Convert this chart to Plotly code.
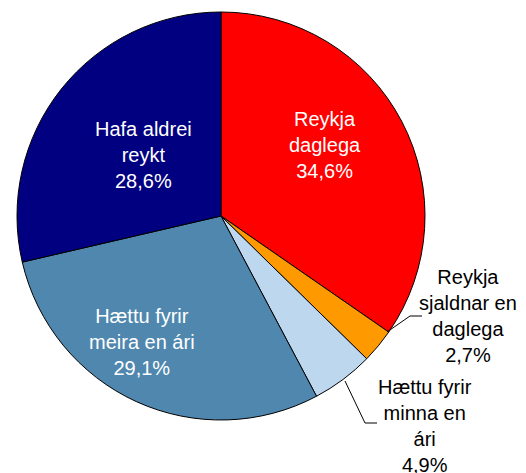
import plotly.graph_objects as go

# Share of respondents by smoking status (%)
categories = ["Reykja daglega", "Reykja sjaldnar en daglega", "Hættu fyrir minna en ári",
              "Hættu fyrir meira en ári", "Hafa aldrei reykt"]
label_lines = ["Reykja<br>daglega", "Reykja<br>sjaldnar en<br>daglega", "Hættu fyrir<br>minna en<br>ári",
               "Hættu fyrir<br>meira en ári", "Hafa aldrei<br>reykt"]
values = [34.6, 2.7, 4.9, 29.1, 28.6]
colors = ["#FF0000", "#FF9900", "#BDD7EE", "#4F87AE", "#000080"]

W, H = 526, 473
FONT = "Liberation Sans Narrow, Arial Narrow, Liberation Sans, Arial, sans-serif"


def px(x, y):
    return x / W, 1 - y / H


fig = go.Figure(go.Pie(
    labels=categories, values=values, sort=False, direction="clockwise", rotation=0,
    marker=dict(colors=colors, line=dict(color="black", width=1)),
    textinfo="none", hoverinfo="label+percent", showlegend=False,
    domain=dict(x=[17 / W, 425 / W], y=[1 - 420 / H, 1 - 12 / H]),
))

# label centres (pixel positions) and text colours
label_pos = [(325, 145), (468, 316), (425, 426), (142, 342), (143, 155)]
label_col = ["white", "black", "black", "white", "white"]
for name, v, (x, y), c in zip(label_lines, values, label_pos, label_col):
    ax, ay = px(x, y)
    fig.add_annotation(x=ax, y=ay, xref="paper", yref="paper", showarrow=False,
                       text=f"{name}<br>{v:.1f}%".replace(".", ","),
                       font=dict(family=FONT, size=20, color=c), align="center",
                       xanchor="center", yanchor="middle")

# leader lines for the two small slices
leaders = [[(387, 332), (410, 316), (422, 316)],
           [(345, 381), (365, 423), (377, 423)]]
for pts in leaders:
    path = "M " + " L ".join(f"{px(x, y)[0]},{px(x, y)[1]}" for x, y in pts)
    fig.add_shape(type="path", path=path, xref="paper", yref="paper",
                  line=dict(color="black", width=1))

fig.update_layout(width=W, height=H, margin=dict(l=0, r=0, t=0, b=0),
                  paper_bgcolor="white", plot_bgcolor="white")
fig.write_html("out.html")
